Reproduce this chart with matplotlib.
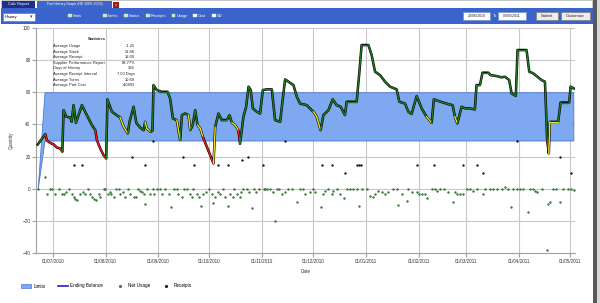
# part history graph: ending balance vs limits, with net usage and receipts
import datetime as dt
import matplotlib
matplotlib.use('Agg')
import matplotlib.pyplot as plt
import matplotlib.dates as mdates
from matplotlib.collections import LineCollection
from matplotlib.patches import Rectangle
from matplotlib.lines import Line2D
import numpy as np

plt.rcParams['font.family'] = ['Liberation Sans', 'DejaVu Sans']

### data ###
start = dt.date(2010, 6, 22)

limit_days = [0, 4, 315]
limit_low = [0, 30, 30]
limit_high = [0, 60, 60]

balance_days = [0, 4.5, 5.4, 7.4, 9.4, 11.3, 13.3, 14.5, 15.2, 16.8, 19.2, 20, 21.1, 22.5, 24, 26,
                28.9, 31.9, 33.9, 34.8, 36.8, 38.7, 40.3, 41, 43.6, 46.6, 48.5, 50.5, 53, 54, 56.4,
                58, 60.3, 62.3, 63.2, 64.2, 66.2, 67.5, 68.1, 70, 73, 76.4, 77.9, 79.5, 81.8, 83.8,
                84.8, 86.7, 88.7, 89.7, 91.2, 92.6, 94, 95.6, 97.1, 99.5, 101.4, 103.4, 104.4, 106.3,
                108.3, 111.2, 112.8, 114.2, 116.1, 118, 119, 120, 121, 122.6, 124, 125.3, 126.5,
                128.8, 130.8, 132.4, 134.7, 137.7, 139.6, 142.6, 143.6, 145.5, 147.5, 150.4, 152.4,
                154.3, 158.2, 162.1, 164.1, 166.4, 168, 171, 173.5, 175.8, 178.2, 180.7, 181.7,
                187.6, 189.2, 190.5, 194.5, 196.4, 198.4, 201.3, 204.3, 207.2, 211.1, 212.7, 216,
                218, 219.9, 222.9, 225.8, 228.7, 231.7, 233, 235.6, 238.5, 241.5, 244, 245.4, 246.8,
                249.3, 251.3, 254.2, 257.1, 258.1, 260.1, 261.6, 265, 266.3, 269.9, 272.8, 274.8,
                277.3, 278.7, 281.2, 282.2, 287.5, 289.1, 291.4, 293.8, 296.3, 298.3, 298.9, 299.6,
                300.6, 301.2, 306.1, 307.5, 312.6, 313.4, 315.3]
balance_vals = [27.5, 34, 30, 28.5, 27.5, 25.6, 25, 23, 48.9, 44.8, 44.3, 41.7, 52, 41, 45.8, 52,
                45.8, 39.6, 36.4, 30.3, 25, 20.9, 18.8, 55.6, 48, 45.6, 44.3, 38.6, 34.4, 41.6, 51,
                41, 38, 36.4, 41.6, 37.5, 35.4, 36, 64.5, 61.4, 60.3, 60.3, 56, 43.7, 42.7, 30.3,
                45.8, 46.8, 45.8, 36.4, 39.6, 48.9, 39.6, 37.5, 32.4, 26.1, 21, 15.7, 38.6, 46.8,
                42.7, 42.7, 45.8, 41, 39.6, 36.4, 28, 36.4, 44.8, 51, 63.5, 61.4, 50,
                47.9, 46.8, 61.4, 61.8, 61.8, 42.7, 41.6, 51, 68, 66.6, 64.5, 57.2,
                53, 52, 47.9, 44.8, 36.4, 45.8, 48.9, 55.6, 52, 51, 45.8, 54.1,
                54.1, 72.8, 89.4, 89.4, 83.2, 72.8, 70.7, 66.6, 63.5, 61.8, 54.1, 53,
                47.9, 46.5, 57.7, 50, 44.8, 41, 55.6, 54.6, 53.6, 52.6, 52, 44.8, 40.6,
                51, 50, 50, 49.3, 64.5, 64.5, 72.2, 72.2, 70.7, 70.1, 69.3, 69.7,
                67.6, 59.3, 57.7, 86.3, 86.3, 72.8, 71.8, 69.7, 67.6, 66.6, 51, 30.3,
                22, 41.6, 41.6, 53.6, 53.6, 63.5, 62.4]
# status of the segment ending at each point: g ok, y warning, r below limit
balance_status = ("ggrrrrrrgggggggg" "gggrrrrggggyygg" "ggggyyggggggggy" "gggygggyyrrryg"
                  "ggggyyrgggggg" "gggggggggggg" "gggyyggggggg" "gggggggggggg"
                  "gggggyggggggy" "gggggggggggg" "gggggggggggg" "ryygggg")

usage_days = [0, 4.1, 5.4, 7.4, 8.4, 10.3, 12.3, 14.3, 15.2, 16.8, 18.2, 20.1, 21.1, 22.1, 23.1,
              25, 26.6, 27.6, 29.3, 30.5, 31.9, 33.3, 34.4, 35.8, 36.8, 38.7, 39.7, 41.1, 42.3,
              43.3, 44.6, 46.2, 47.6, 48.5, 50.1, 51.5, 52.9, 54.4, 56.4, 57.9, 58.7, 60.3, 61.3,
              62.3, 63.2, 64.2, 65.8, 67.7, 68.5, 70.1, 71.7, 73, 75, 77.5, 78.5, 79.9, 81.8,
              82.8, 84.8, 86.2, 87.7, 89.3, 90.7, 91.6, 93.6, 94.6, 96.1, 97.5, 99.1, 100.5,
              102.4, 103, 104.4, 106.3, 107.3, 108.9, 110.2, 112.2, 113.2, 114.8, 115.5, 117.1,
              118.7, 119.5, 121, 123, 124.5, 125.9, 127.3, 128.5, 130.4, 132.8, 133.8, 135.1,
              136.7, 138.3, 139.6, 141, 142.2, 143.6, 145.5, 147.5, 149.4, 152.4, 154.3, 156.3,
              157.2, 160.2, 162.1, 163.1, 166.4, 167.6, 169, 171, 172.9, 173.9, 175.8, 177.8,
              180.4, 181.7, 183.7, 185.6, 187.6, 189.2, 190.5, 193.5, 195.4, 197, 198.4, 200.3,
              202.3, 204.3, 206.2, 209.1, 211.1, 212.1, 214, 217, 218, 219.9, 222.9, 224.4,
              225.8, 227.8, 229.1, 231.7, 233.6, 235, 236.6, 238.9, 241.5, 244, 245.4, 246.8,
              248.3, 250.3, 252.2, 254.2, 256.2, 258.1, 261.6, 263, 266, 267.9, 269.9, 272.8,
              274.8, 276.7, 278.1, 279.7, 281.6, 283.6, 285.5, 288.1, 289.5, 291.4, 292.4, 293.8,
              296.3, 299.3, 300.2, 301.2, 303.2, 305.1, 307.1, 309.1, 312, 313.9, 315.3]
usage_vals = [0, 7, -3, 0, 0, -3, 0, -3, -3.5, -2, 0, -3, -5, -6.5, -7,
              -3, -2, -3, 0, -3, -5, -6.5, -7, -3, -5, 0, 0, -3, -2,
              -3, -5, 0, 0, -3, -2, -5, 0, -3, -5, -5, 0, -1.5, -2,
              -3, -9.5, 0, -3, 0, -3, 0, 0, -3, 0, -3, -11.5, 0, 0,
              -3, -5, 0, 0, -3, -5, 0, -3, -5, -10.5, -3, -2, 0,
              -3, -9, -5, -2, -3, 0, -5, -10.5, -3, -5, 0, -3,
              -5, -2, 0, 0, -2, -12, 0, -2, 0, 0, 0, 0,
              0, -2, -20, 0, 0, -3, -2, 0, 0, -8.5, 0, 0,
              -3.5, -2, 0, -2, -11.5, -3, -1.5, 0, -3.5, -1.5, 0, -3,
              -6, 0, 0, 0, 0, -10.5, 0, 0, -4.5, -5, -3, -1.5,
              -2, -3, -2, 0, 0, -10, -3, -7.5, 0, -2, -2, -3,
              -3, -3.5, -6, 0, 0, -1.5, 0, 0, -2, -8.5, -2, -3,
              -3, -3, 0, 0, -1.5, 0, -3, 0, 0, 0, 0, 0,
              1, 0, -11.5, 0, 0, 0, 0, -14.5, 0, 0, -1.5, -2,
              0, -38, -9.5, -8.5, 0, 0, -8.5, 0, 0, 0, -1]

receipt_days = [21.1, 26, 55.4, 63.2, 68.1, 85.4, 92.2, 106.3, 112.2, 120, 123.9, 132.4, 145.5,
                167, 173.3, 180.7, 188, 189, 190, 223.3, 233, 250.3, 258.1, 262, 282, 307, 313.4]
receipt_vals = [15, 15, 20, 15, 30, 20, 15, 15, 15, 18, 20, 15, 30,
                15, 15, 10, 15, 15, 15, 15, 15, 15, 15, 10, 30, 20, 10]

stats_labels = ["Average Usage", "Average Stock", "Average Receipt", "Supplier Performance Report",
                "Days of History", "Average Receipt Interval", "Average Turns", "Average Part Cost"]
stats_values = ["-1.25", "51.86", "18.00", "83.77%", "336", "7.00 Days", "10.69", "4.0493"]

check_labels = ["Stats", "Limits", "Status", "Receipts", "Usage", "Cost", "SD"]
check_on = [True, True, True, True, True, False, False]
check_x = [68, 103, 124, 146, 172, 193, 212]

W, H = 600, 303
def fx(x):
    return x / W
def fy(y):
    return 1 - y / H

fig = plt.figure(figsize=(6, 3.03), dpi=100)
fs = 3.3
fs_small = 2.9

# ---- header / UI chrome ----
def rect(x0, y0, x1, y1, fc, ec='none', lw=0.5):
    fig.patches.append(Rectangle((fx(x0), fy(y1)), fx(x1) - fx(x0), fy(y0) - fy(y1),
                                 transform=fig.transFigure, facecolor=fc, edgecolor=ec,
                                 linewidth=lw, zorder=0))

rect(1, 0.5, 592, 8, 'white', '#b0b0b0')
rect(2, 1, 35, 8, '#1d2f86')
fig.text(fx(18.5), fy(4.5), "Calc Report", color='white', fontsize=fs_small, ha='center', va='center')
rect(37, 1, 112, 8, '#3d66cc')
fig.text(fx(74.5), fy(4.5), "Part History Graph (HE 2005-7003)", color='white', fontsize=2.5,
         ha='center', va='center')
rect(113, 2, 118.5, 7.5, '#9c1c1c')
fig.text(fx(115.8), fy(4.7), "x", color='white', fontsize=2.5, ha='center', va='center')
rect(1, 8, 593, 24, '#3a63cb')
rect(3, 13, 35, 20.5, 'white', '#6080c0')
fig.text(fx(5), fy(16.8), "History", color='black', fontsize=fs_small, ha='left', va='center')
fig.text(fx(31.5), fy(16.8), "\u25be", color='#444444', fontsize=3.5, ha='center', va='center')
for lab, on, x in zip(check_labels, check_on, check_x):
    rect(x, 13.5, x + 3.5, 17, '#c8ecb0' if on else 'white', '#e0e0e0', 0.3)
    fig.text(fx(x + 5), fy(16), lab, color='white', fontsize=fs_small, ha='left', va='center')
rect(463, 12, 490, 19.5, 'white', '#7090d0')
fig.text(fx(476.5), fy(15.8), "22/06/2010", fontsize=2.6, ha='center', va='center', color='#222222')
fig.text(fx(494.5), fy(15.8), "To", fontsize=fs_small, ha='center', va='center', color='white')
rect(498, 12, 526, 19.5, 'white', '#7090d0')
fig.text(fx(512), fy(15.8), "03/05/2011", fontsize=2.6, ha='center', va='center', color='#222222')
rect(536, 12, 558, 19.5, '#ececec', '#808080')
fig.text(fx(547), fy(15.8), "Submit", fontsize=fs_small, ha='center', va='center', color='#222222')
rect(561, 12, 590, 19.5, '#ececec', '#808080')
fig.text(fx(575.5), fy(15.8), "Customize", fontsize=fs_small, ha='center', va='center', color='#222222')
rect(593, 0, 597, 303, '#5a5a5a')
rect(597, 0, 600, 303, '#d8d8d8')

# ---- chart ----
ax = fig.add_axes([fx(36), fy(253), fx(575) - fx(36), fy(28) - fy(253)])
t0 = mdates.date2num(start)

lx = t0 + np.array(limit_days)
ax.fill_between(lx, limit_low, limit_high, facecolor='#7ea8f0', edgecolor='#4a78d8',
                linewidth=0.6, zorder=2)

bx = t0 + np.array(balance_days)
by = np.array(balance_vals)
ax.plot(bx, by, color='black', linewidth=1.8, solid_joinstyle='round', zorder=4)
segs = [[(bx[i], by[i]), (bx[i + 1], by[i + 1])] for i in range(len(bx) - 1)]
cmap = {'g': '#237a23', 'y': '#e6e619', 'r': '#e42020'}
seg_cols = [cmap[s] for s in balance_status[1:]]
lc = LineCollection(segs, colors=seg_cols, linewidths=1.0, capstyle='round', zorder=5)
ax.add_collection(lc)

ax.plot(t0 + np.array(usage_days), usage_vals, linestyle='none', marker='o', markersize=1.3,
        markerfacecolor='#3a8a3a', markeredgecolor='#1d5a1d', markeredgewidth=0.3, zorder=6)
ax.plot(t0 + np.array(receipt_days), receipt_vals, linestyle='none', marker='o', markersize=1.3,
        markerfacecolor='#222222', markeredgecolor='black', markeredgewidth=0.3, zorder=6)

ax.set_ylim(-40, 100)
ax.set_yticks(range(-40, 101, 20))
ax.set_xlim(t0 - 1, t0 + 316)
ax.xaxis.set_major_locator(mdates.MonthLocator(bymonthday=1))
ax.xaxis.set_major_formatter(mdates.DateFormatter('%d/%m/%Y'))
ax.grid(True, color='#c8c8c8', linewidth=0.8, zorder=0)
ax.set_axisbelow(True)
for s in ['top', 'right']:
    ax.spines[s].set_visible(False)
for s in ['left', 'bottom']:
    ax.spines[s].set_color('#a0a0a0')
    ax.spines[s].set_linewidth(0.8)
ax.tick_params(axis='both', labelsize=fs, colors='#a0a0a0', labelcolor='#333333',
               length=3, width=0.8, pad=1)
ax.set_ylabel("Quantity", fontsize=fs, color='#333333', labelpad=6)
ax.set_xlabel("Date", fontsize=fs, color='#333333', labelpad=4)

# statistics block
ax.text(fx(97), fy(39.5), "Statistics", transform=fig.transFigure, fontsize=fs_small,
        fontweight='bold', ha='center', va='center', color='#222222', zorder=7)
for i, (lab, val) in enumerate(zip(stats_labels, stats_values)):
    yy = 46 + i * 5.6
    ax.text(fx(53), fy(yy), lab, transform=fig.transFigure, fontsize=fs_small, ha='left',
            va='center', color='#222222', zorder=7)
    ax.text(fx(135), fy(yy), val, transform=fig.transFigure, fontsize=fs_small, ha='right',
            va='center', color='#222222', zorder=7)

handles = [Rectangle((0, 0), 1, 1, facecolor='#7ea8f0', edgecolor='#4a78d8', linewidth=0.5),
           Line2D([], [], color='#2020c0', linewidth=1.2),
           Line2D([], [], linestyle='none', marker='o', markersize=1.3, color='#3a8a3a'),
           Line2D([], [], linestyle='none', marker='o', markersize=1.3, color='#222222')]
fig.legend(handles, ["Limits", "Ending Balance", "Net Usage", "Receipts"], loc='center left',
           bbox_to_anchor=(fx(17), fy(286)), ncol=4, frameon=False, fontsize=fs,
           handlelength=2.2, handleheight=1.0, columnspacing=2.5, handletextpad=0.6)

plt.savefig('out.png', dpi=100)
plt.close()
